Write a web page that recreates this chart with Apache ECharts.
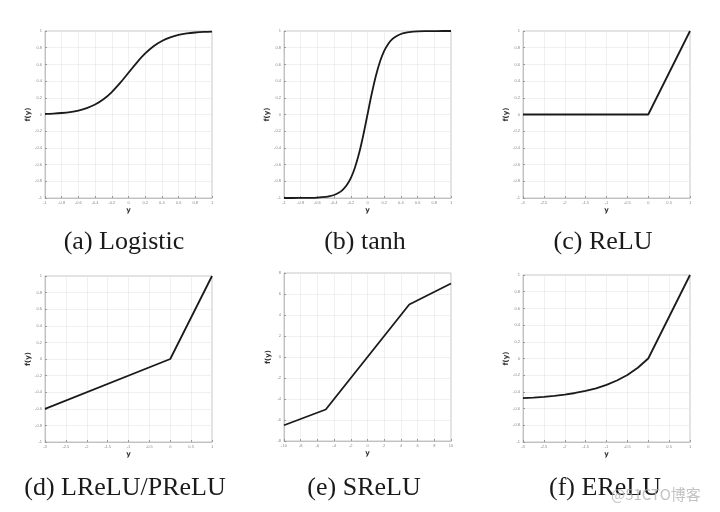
<!DOCTYPE html>
<html><head><meta charset="utf-8">
<script src="https://cdn.jsdelivr.net/npm/echarts@6/dist/echarts.min.js"></script>
<style>html,body{margin:0;padding:0;background:#fff}#c{width:720px;height:512px}</style>
</head><body><div id="c"></div>
<script>
// ---- data ----
const logisticX = [-1,-0.9,-0.8,-0.7,-0.6,-0.5,-0.4,-0.3,-0.2,-0.1,0,0.1,0.2,0.3,0.4,0.5,0.6,0.7,0.8,0.9,1];
const logisticY = [0.007,0.011,0.018,0.029,0.047,0.076,0.119,0.182,0.269,0.378,0.5,0.622,0.731,0.818,0.881,0.924,0.953,0.971,0.982,0.989,0.993];
const tanhX = [-1,-0.9,-0.8,-0.7,-0.6,-0.5,-0.45,-0.4,-0.35,-0.3,-0.25,-0.2,-0.15,-0.1,-0.05,0,0.05,0.1,0.15,0.2,0.25,0.3,0.35,0.4,0.45,0.5,0.6,0.7,0.8,0.9,1];
const tanhY = [-1,-1,-0.999,-0.998,-0.995,-0.987,-0.978,-0.964,-0.941,-0.905,-0.848,-0.762,-0.635,-0.462,-0.245,0,0.245,0.462,0.635,0.762,0.848,0.905,0.941,0.964,0.978,0.987,0.995,0.998,0.999,1,1];
const reluX = [-3,0,1];
const reluY = [0,0,1];
const lreluX = [-3,0,1];
const lreluY = [-0.6,0,1];
const sreluX = [-10,-5,5,10];
const sreluY = [-6.5,-5,5,7];
const eluX = [-3,-2.75,-2.5,-2.25,-2,-1.75,-1.5,-1.25,-1,-0.75,-0.5,-0.25,0,1];
const eluY = [-0.475,-0.468,-0.459,-0.447,-0.432,-0.413,-0.388,-0.357,-0.316,-0.264,-0.197,-0.111,0,1];
const captions = ['(a) Logistic','(b) tanh','(c) ReLU','(d) LReLU/PReLU','(e) SReLU','(f) EReLU'];
const xRanges = [[-1,1,0.2],[-1,1,0.2],[-3,1,0.5],[-3,1,0.5],[-10,10,2],[-3,1,0.5]];
const yRanges = [[-1,1,0.2],[-1,1,0.2],[-1,1,0.2],[-1,1,0.2],[-8,8,2],[-1,1,0.2]];

// ---- layout ----
const boxes = [
  {left:45, top:31, width:167, height:167},
  {left:284, top:31, width:167, height:167},
  {left:523, top:31, width:167, height:167},
  {left:45, top:276, width:167, height:166},
  {left:284, top:273, width:167, height:168},
  {left:523, top:275, width:167, height:167}
];
const capPos = [[124,242],[365,242],[603,242],[125,488],[364,488],[605,488]];
const seriesXY = [[logisticX,logisticY],[tanhX,tanhY],[reluX,reluY],[lreluX,lreluY],[sreluX,sreluY],[eluX,eluY]];

const grid=[], xAxis=[], yAxis=[], series=[], graphic=[];
const gridLine = {show:true, lineStyle:{color:'#e6e6e6', width:0.6}};
const lbl = {fontSize:4, color:'#888', margin:3};
boxes.forEach((b,i)=>{
  grid.push(Object.assign({show:true, borderColor:'#b8b8b8', borderWidth:0.8, backgroundColor:'#fff'}, b));
  xAxis.push({type:'value', gridIndex:i, min:xRanges[i][0], max:xRanges[i][1], interval:xRanges[i][2],
    name:'y', nameLocation:'middle', nameGap:9, nameTextStyle:{fontSize:7, fontWeight:'bold', color:'#333', fontFamily:'DejaVu Sans'},
    axisLine:{show:true, onZero:false, lineStyle:{color:'#b8b8b8', width:0.8}}, axisTick:{show:true, length:2, inside:true, lineStyle:{color:'#999'}},
    axisLabel:lbl, splitLine:gridLine});
  yAxis.push({type:'value', gridIndex:i, min:yRanges[i][0], max:yRanges[i][1], interval:yRanges[i][2],
    name:'f(y)', nameLocation:'middle', nameGap:12, nameRotate:90, nameTextStyle:{fontSize:7, fontWeight:'bold', color:'#333', fontFamily:'DejaVu Sans'},
    axisLine:{show:true, onZero:false, lineStyle:{color:'#b8b8b8', width:0.8}}, axisTick:{show:true, length:2, inside:true, lineStyle:{color:'#999'}},
    axisLabel:lbl, splitLine:gridLine});
  const xs = seriesXY[i][0], ys = seriesXY[i][1];
  series.push({type:'line', xAxisIndex:i, yAxisIndex:i, data:xs.map((x,k)=>[x,ys[k]]),
    showSymbol:false, smooth:(i<2)?0.35:false, lineStyle:{color:'#1a1a1a', width:1.8}, animation:false});
  graphic.push({type:'text', style:{text:captions[i], x:capPos[i][0], y:capPos[i][1],
    font:'26px "Liberation Serif"', fill:'#1a1a1a', textAlign:'center', textVerticalAlign:'middle'}});
});
graphic.push({type:'text', style:{text:'@51CTO博客', x:611, y:494, font:'15px "Noto Sans CJK SC"', fill:'rgba(175,175,175,0.75)', textVerticalAlign:'middle'}});

const chart = echarts.init(document.getElementById('c'), null, {renderer:'canvas'});
chart.setOption({animation:false, backgroundColor:'#fff', grid, xAxis, yAxis, series, graphic});
</script></body></html>
